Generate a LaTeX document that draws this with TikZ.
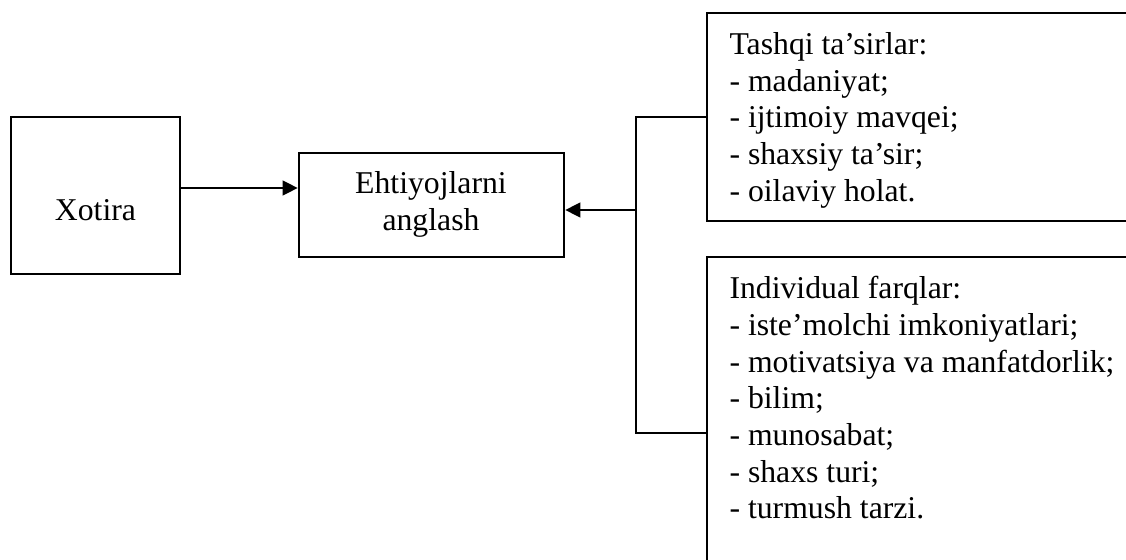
\documentclass[tikz,border=0pt]{standalone}
\usepackage{fontspec}
\setmainfont{Liberation Serif}
\usetikzlibrary{arrows.meta,fit}
\begin{document}
\begin{tikzpicture}[x=0.3846pt,y=-0.3846pt,
  box/.style={draw, line width=0.95pt, inner sep=0pt},
  lbl/.style={inner sep=0pt, font=\fontsize{12.2}{14.1}\selectfont},
  conn/.style={line width=0.95pt},
  arr/.style={conn, -{Triangle[length=5.8pt,width=5.6pt]}}]
\useasboundingbox (0,0) rectangle (1126,560);
\clip (0,0) rectangle (1126,560);

% boxes
\node[box, fit={(11,117) (180,274)}] (xot) {};
\node[box, fit={(299,153) (564,257)}] (need) {};
\node[box, fit={(707,13) (1160,221)}] (ext) {};
\node[box, fit={(707,257) (1160,609)}] (ind) {};

% texts
\node[lbl, anchor=base] (xottxt) at (95.5,220) {Xotira};
\node[lbl, anchor=north, align=center] (needtxt) at (431,171) {Ehtiyojlarni\\anglash};
\node[lbl, anchor=north west, align=left] (exttxt) at (729,32)
  {Tashqi ta’sirlar:\\- madaniyat;\\- ijtimoiy mavqei;\\- shaxsiy ta’sir;\\- oilaviy holat.};
\node[lbl, anchor=north west, align=left] (indtxt) at (729,276)
  {Individual farqlar:\\- iste’molchi imkoniyatlari;\\- motivatsiya va manfatdorlik;\\- bilim;\\- munosabat;\\- shaxs turi;\\- turmush tarzi.};

% connectors
\coordinate (y1) at (0,188);
\coordinate (bus) at (636,210);
\draw[arr] (xot.east |- y1) -- (need.west |- y1);
\draw[conn] (ext.west) -| (bus) |- (ind.west);
\draw[arr] (bus) -- (need.east |- bus);
\end{tikzpicture}
\end{document}
